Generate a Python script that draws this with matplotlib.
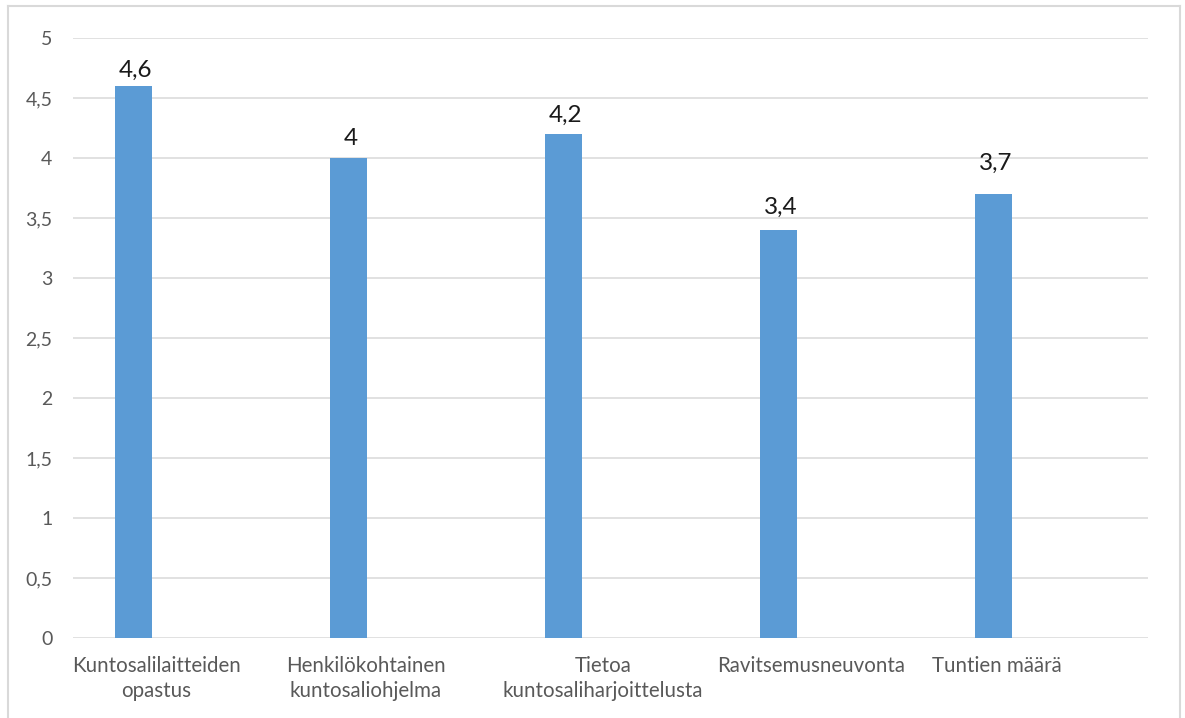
import matplotlib
matplotlib.use("Agg")
import matplotlib.pyplot as plt
from matplotlib.lines import Line2D

# Data
categories = [
    "Kuntosalilaitteiden\nopastus",
    "Henkilökohtainen\nkuntosaliohjelma",
    "Tietoa\nkuntosaliharjoittelusta",
    "Ravitsemusneuvonta",
    "Tuntien määrä",
]
values = [4.6, 4.0, 4.2, 3.4, 3.7]
value_labels = ["4,6", "4", "4,2", "3,4", "3,7"]
y_ticks = [0, 0.5, 1, 1.5, 2, 2.5, 3, 3.5, 4, 4.5, 5]

# Layout
bar_offset = -0.221
bar_width = 0.172
label_offsets = [-0.113, -0.139, -0.037, -0.069, -0.204]
value_gaps_px = [9, 13, 12, 16, 24]

plt.rcParams["font.family"] = ["Lato", "DejaVu Sans"]

W, H = 1185, 718
fig = plt.figure(figsize=(W / 100, H / 100), dpi=100)
ax = fig.add_axes([73.3 / W, 1 - 638 / H, (1148.3 - 73.3) / W, 600 / H])

x = [i + bar_offset for i in range(len(values))]
ax.bar(x, values, width=bar_width, color="#5B9BD5", zorder=3)

ax.set_xlim(-0.5, len(categories) - 0.5)
ax.set_ylim(0, 5)
ax.set_yticks(y_ticks)
ax.set_yticklabels([f"{t:g}".replace(".", ",") for t in y_ticks],
                   fontsize=14, color="#595959")
ax.tick_params(axis="y", length=0, pad=15)
ax.set_xticks([])
ax.grid(axis="y", color="#D9D9D9", linewidth=1.1, zorder=0)
for s in ax.spines.values():
    s.set_visible(False)

for xi, v, lab, gap in zip(x, values, value_labels, value_gaps_px):
    ax.annotate(lab, (xi, v), xytext=(2, gap), textcoords="offset pixels",
                ha="center", va="baseline", fontsize=17.5, color="#1a1a1a")

for i, (cat, off) in enumerate(zip(categories, label_offsets)):
    ax.text(i + off, -0.15, cat, transform=ax.transData, ha="center", va="top",
            multialignment="center", fontsize=14.8, color="#595959",
            linespacing=1.32)

# Chart frame
frame_kw = dict(color="#D9D9D9", linewidth=1.5, transform=fig.transFigure)
fig.add_artist(Line2D([8 / W, 8 / W], [0, 1 - 6 / H], **frame_kw))
fig.add_artist(Line2D([1180 / W, 1180 / W], [0, 1 - 6 / H], **frame_kw))
fig.add_artist(Line2D([8 / W, 1180 / W], [1 - 6 / H, 1 - 6 / H], **frame_kw))

fig.savefig("out.png", dpi=100)
